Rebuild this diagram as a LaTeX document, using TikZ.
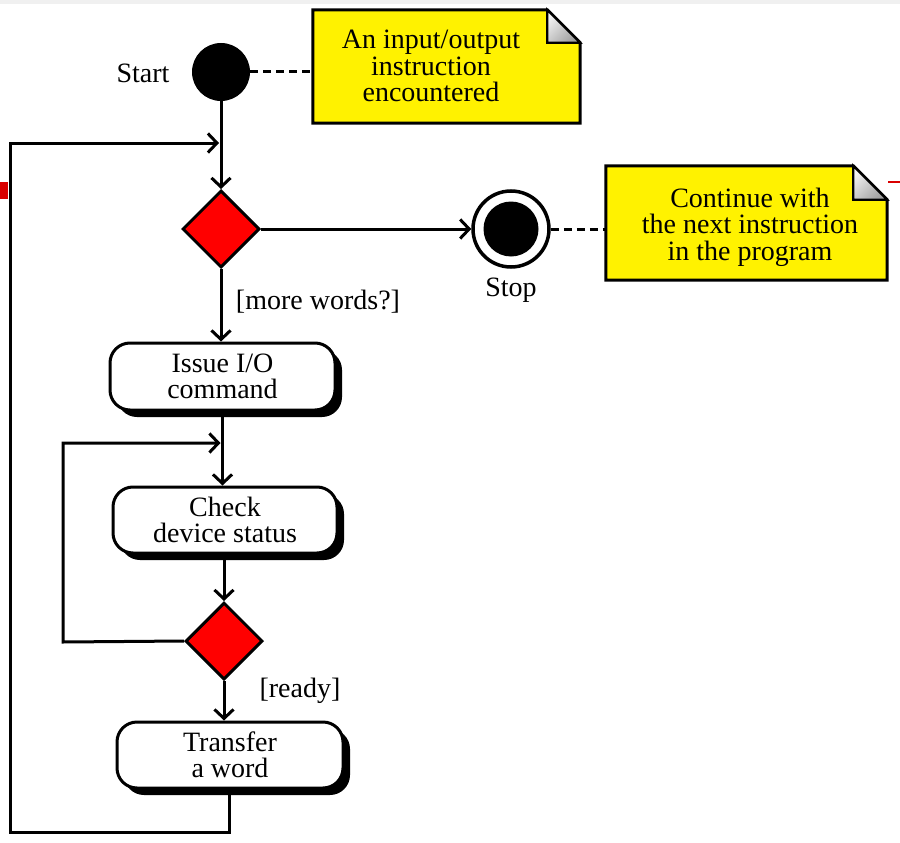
\documentclass[tikz,border=0pt]{standalone}
\usepackage{fontspec}
\setmainfont{Liberation Serif}
\usetikzlibrary{arrows.meta,shapes.geometric,shadows,calc}
\begin{document}
\begin{tikzpicture}[x=1pt,y=-1pt,
  txt/.style={font=\fontsize{28}{26.5}\selectfont, inner sep=0pt, align=center},
  act/.style={txt, draw, line width=3pt, rounded corners=20pt, fill=white,
    minimum height=67pt,
    drop shadow={shadow xshift=7pt, shadow yshift=-7pt, opacity=1, fill=black}},
  dec/.style={diamond, draw, line width=3pt, fill=red, minimum width=77pt, minimum height=77pt, inner sep=0pt},
  notearea/.style={inner sep=0pt},
  notebox/.style={draw, line width=3pt, fill=yellow, line join=miter},
  fold/.style={draw, line width=2.2pt, left color=gray!10, right color=gray!75, shading angle=45, line join=miter},
  flow/.style={line width=3pt, -{Straight Barb[length=9pt,width=19pt,line width=3pt]}},
  dashline/.style={line width=3pt, dash pattern=on 8pt off 5pt}
]
\useasboundingbox (0,0) rectangle (900,843);
\fill[white] (0,0) rectangle (900,843);
% slide frame remnants
\fill[gray!12] (0,0) rectangle (900,4);
\fill[red!85!black] (0,182) rectangle (8,199);
\fill[red!85!black] (888,181) rectangle (900,183);

% note areas (outline drawn before the text)
\node[notearea, minimum width=267pt, minimum height=113pt] (n1) at (446.5,66.5) {};
\node[notearea, minimum width=281pt, minimum height=114pt] (n2) at (746.5,223) {};
\draw[notebox] (n1.north west) -- ([xshift=-33pt]n1.north east) -- ([yshift=-33pt]n1.north east) -- (n1.south east) -- (n1.south west) -- cycle;
\draw[notebox] (n2.north west) -- ([xshift=-34pt]n2.north east) -- ([yshift=-34pt]n2.north east) -- (n2.south east) -- (n2.south west) -- cycle;
\draw[fold] ([xshift=-33pt]n1.north east) -- ([xshift=-33pt,yshift=-33pt]n1.north east) -- ([yshift=-33pt]n1.north east) -- cycle;
\draw[fold] ([xshift=-34pt]n2.north east) -- ([xshift=-34pt,yshift=-34pt]n2.north east) -- ([yshift=-34pt]n2.north east) -- cycle;
\node[txt] (n1t) at (431,66) {An input/output\\instruction\\encountered};
\node[txt] (n2t) at (750,227) {Continue with\\the next instruction\\in the program};

% nodes
\node[circle, fill=black, minimum size=58pt, inner sep=0pt] (start) at (221,72) {};
\node[txt] (startlbl) at (143,73) {Start};
\node[dec] (d1) at (221,229) {};
\node[circle, draw, line width=3.5pt, fill=white, minimum size=76pt, inner sep=0pt] (stop) at (511,229) {};
\node[circle, fill=black, minimum size=55pt, inner sep=0pt] (stopin) at (stop) {};
\node[txt] (stoplbl) at (511,290) {Stop};
\node[txt] (mw) at (318,302) {[more words?]};
\node[act, minimum width=225pt] (issue) at (222.5,376.5) {Issue I/O\\command};
\node[act, minimum width=224pt, minimum height=66pt] (check) at (225,520) {Check\\device status};
\node[dec] (d2) at (224,641) {};
\node[txt] (ready) at (300,691) {[ready]};
\node[act, minimum width=226pt, minimum height=66pt] (tr) at (230,755) {Transfer\\a word};

% coordinates for loops
\coordinate (lb) at (10,832);
\coordinate (lt) at (10,143);
\coordinate (ib) at (63,642);
\coordinate (it) at (63,443);

% connectors
\draw[dashline] (start.east) -- (start.east -| n1.west);
\draw[dashline] (stop.east) -- (stop.east -| n2.west);
\draw[flow] (start.south) -- (d1.north);
\draw[flow] (d1.east) -- (stop.west);
\draw[flow] (d1.south) -- (d1.south |- issue.north);
\draw[flow] (issue.south) -- (issue.south |- check.north);
\draw[flow] (check.south -| d2.north) -- (d2.north);
\draw[flow] (d2.south) -- (d2.south |- tr.north);
\draw[flow] (d2.west) -- (ib) -- (it) -- ([xshift=-2pt]it -| issue.south);
\draw[flow] ([xshift=-1pt]tr.south) -- ([xshift=-1pt]tr.south |- lb) -- (lb) -- (lt) -- ([xshift=-2pt]lt -| start.south);
\end{tikzpicture}
\end{document}
